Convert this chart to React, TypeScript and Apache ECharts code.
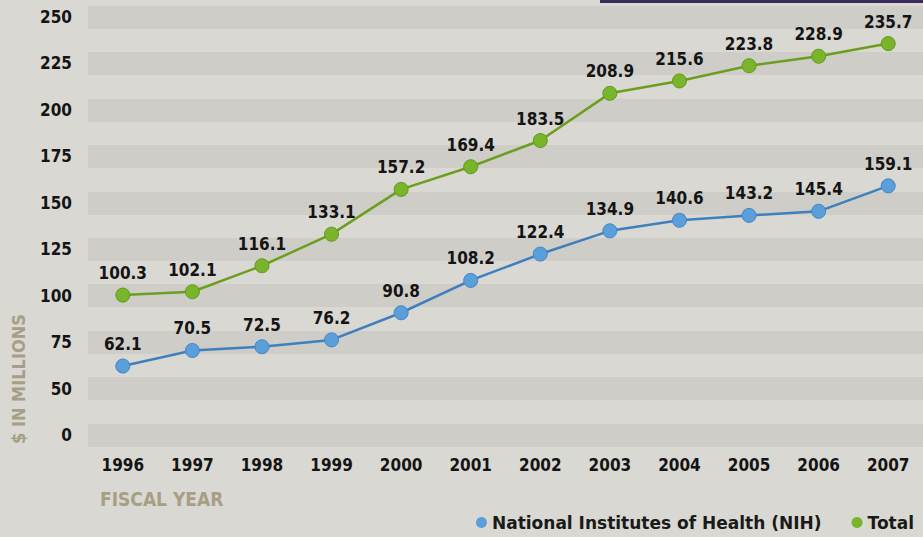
import React, { useEffect, useRef } from "react";
import * as echarts from "echarts";

const years = ["1996", "1997", "1998", "1999", "2000", "2001", "2002", "2003", "2004", "2005", "2006", "2007"];
const nih = [62.1, 70.5, 72.5, 76.2, 90.8, 108.2, 122.4, 134.9, 140.6, 143.2, 145.4, 159.1];
const total = [100.3, 102.1, 116.1, 133.1, 157.2, 169.4, 183.5, 208.9, 215.6, 223.8, 228.9, 235.7];
const yMin = 25;
const yMax = 250;
const yStep = 25;

const FONT = "'DejaVu Sans Condensed', 'Liberation Sans', sans-serif";
const LEGEND_FONT = "'DejaVu Sans', 'Liberation Sans', sans-serif";

export default function App() {
  const ref = useRef<HTMLDivElement>(null);
  useEffect(() => {
    if (!ref.current) return;
    const chart = echarts.init(ref.current, null, { renderer: "svg" });
    const labelStyle = {
      show: true,
      position: "top" as const,
      distance: 6,
      color: "#141414",
      fontFamily: FONT,
      fontWeight: "bold" as const,
      fontSize: 17,
    };
    chart.setOption({
      animation: false,
      backgroundColor: "#d9d8d2",
      grid: { left: 88, right: 0, top: 17, bottom: 102 },
      xAxis: {
        type: "category",
        data: years,
        boundaryGap: true,
        axisLine: { show: false },
        axisTick: { show: false },
        axisLabel: {
          color: "#141414",
          fontFamily: FONT,
          fontWeight: "bold",
          fontSize: 17,
          margin: 21,
        },
      },
      yAxis: {
        type: "value",
        min: yMin,
        max: yMax,
        interval: yStep,
        axisLine: { show: false },
        axisTick: { show: false },
        axisLabel: {
          color: "#141414",
          fontFamily: FONT,
          fontWeight: "bold",
          fontSize: 17,
          margin: 16,
          formatter: (v: number) => (v === yMin ? "0" : String(v)),
        },
        splitLine: { show: true, lineStyle: { color: "rgba(150,150,150,0.16)", width: 23 } },
      },
      legend: {
        right: 4,
        top: 509,
        icon: "circle",
        itemWidth: 11,
        itemHeight: 11,
        itemGap: 30,
        textStyle: { color: "#1a1a1a", fontFamily: LEGEND_FONT, fontWeight: "bold", fontSize: 17 },
        itemStyle: { borderWidth: 0 },
        data: ["National Institutes of Health (NIH)", "Total"],
      },
      graphic: [
        { type: "rect", shape: { x: 600, y: 0, width: 323, height: 3 }, style: { fill: "#3b2b5c" } },
        {
          type: "text",
          x: 100,
          y: 489,
          style: { text: "FISCAL YEAR", fill: "#a79e86", font: `bold 19px ${FONT}` },
        },
        {
          type: "text",
          x: 9,
          y: 444,
          rotation: Math.PI / 2,
          style: { text: "$ IN MILLIONS", fill: "#a79e86", font: `bold 18px ${FONT}` },
        },
      ],
      series: [
        {
          name: "National Institutes of Health (NIH)",
          type: "line",
          data: nih,
          symbol: "circle",
          symbolSize: 14,
          lineStyle: { color: "#3f7fbf", width: 2.5 },
          itemStyle: { color: "#5a9fd9", borderColor: "#4585c4", borderWidth: 1 },
          label: labelStyle,
        },
        {
          name: "Total",
          type: "line",
          data: total,
          symbol: "circle",
          symbolSize: 14,
          lineStyle: { color: "#6c9e1f", width: 2.5 },
          itemStyle: { color: "#78b52a", borderColor: "#65981f", borderWidth: 1 },
          label: labelStyle,
        },
      ],
    });
    return () => chart.dispose();
  }, []);
  return <div ref={ref} style={{ width: 923, height: 537, position: "absolute", left: 0, top: 0 }} />;
}
